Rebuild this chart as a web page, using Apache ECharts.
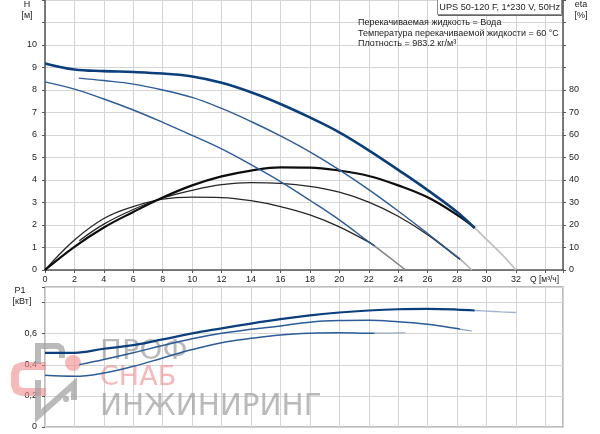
<!DOCTYPE html>
<html><head><meta charset="utf-8">
<script src="https://cdn.jsdelivr.net/npm/echarts@6/dist/echarts.min.js"></script>
<style>html,body{margin:0;padding:0;background:#fff}#c{width:600px;height:434px}</style>
</head><body><div id="c"></div>
<script>
// ---- data (Q in m3/h) ----
const qH3 = [0,2,4,6,8,10,12,14,16,18,20,22,24,26,28,29.2];
const h3  = [9.18,8.91,8.84,8.8,8.73,8.6,8.32,7.9,7.38,6.78,6.12,5.32,4.45,3.55,2.58,1.86];
const qH3g = [29.2,30,31,32];
const h3g  = [1.86,1.35,0.72,0];
const qH2 = [2.3,4,6,8,10,12,14,16,18,20,22,24,26,28,28.2];
const h2  = [8.53,8.42,8.26,8.0,7.67,7.18,6.6,5.96,5.25,4.45,3.57,2.62,1.62,0.6,0.5];
const qH2g = [28.2,28.6,29.0];
const h2g  = [0.5,0.26,0];
const qH1 = [0,2,4,6,8,10,12,14,16,18,20,22,22.4];
const h1  = [8.36,8.04,7.6,7.11,6.56,5.98,5.38,4.68,3.93,3.1,2.23,1.25,1.06];
const qH1g = [22.4,23,23.5,24,24.5];
const h1g  = [1.06,0.76,0.51,0.25,0];

const qE3 = [0,2,4,6,8,10,12,14,16,18,20,22,24,26,28,29.2];
const e3  = [0,10.3,18.9,25.8,32.2,37.6,41.6,44.2,45.6,45.5,44.2,41.8,37.6,32.3,24.5,18.8];
const qE3g = [29.2,30,31,32];
const e3g  = [18.8,13.8,7.4,0];
const qE2 = [2.33,4,6,8,10,12,14,16,18,20,22,24,26,28,28.2];
const e2  = [13,20.4,26.9,32,35.4,37.9,38.8,38.5,37.2,34.6,30.2,23.9,15.7,5.7,4.7];
const qE2g = [28.2,28.6,29.0];
const e2g  = [4.7,2.4,0];
const qE1 = [0,2,4,6,8,10,12,14,16,18,20,22,22.4];
const e1  = [0,13.3,22.9,28.2,31.5,32.4,32.2,30.8,28.2,24.5,19.2,12.4,10.8];
const qE1g = [22.4,23,23.5,24,24.5];
const e1g  = [10.8,7.7,5.2,2.6,0];

const qP3 = [0,2,4,6,8,10,12,14,16,18,20,22,24,26,28,29.2];
const p3  = [0.477,0.477,0.503,0.526,0.563,0.602,0.634,0.665,0.693,0.717,0.736,0.749,0.757,0.759,0.755,0.749];
const qP3g = [29.2,30,31,32];
const p3g  = [0.749,0.745,0.74,0.736];
const qP2 = [2.33,4,6,8,10,12,14,16,18,20,22,24,26,28,28.2];
const p2  = [0.401,0.434,0.477,0.524,0.567,0.602,0.628,0.65,0.674,0.684,0.686,0.676,0.66,0.633,0.629];
const qP2g = [28.2,28.6,29.0];
const p2g  = [0.629,0.623,0.617];
const qP1 = [0,2,4,6,8,10,12,14,16,18,20,22,22.4];
const p1  = [0.332,0.326,0.347,0.39,0.444,0.498,0.542,0.57,0.592,0.603,0.606,0.603,0.603];
const qP1g = [22.4,23,24,24.5];
const p1g  = [0.603,0.603,0.605,0.606];

const titleText = 'UPS 50-120 F, 1*230 V, 50Hz';
const infoLines = ['Перекачиваемая жидкость = Вода','Температура перекачиваемой жидкости = 60 °C','Плотность = 983.2 кг/м³'];

// ---- build ----
const FONT = 'Liberation Sans, Arial, sans-serif';
function zip(xs, ys){ return xs.map((x,i)=>[x, ys[i]]); }
function line(xs, ys, xi, yi, color, width, z){
  return {type:'line', xAxisIndex:xi, yAxisIndex:yi, data:zip(xs,ys), smooth:0.4,
    symbol:'none', silent:true, z:z||3, lineStyle:{color:color, width:width}};
}
const BLUE_D = '#0b3f7c', BLUE = '#2b5c98';
const series = [
  line(qH3g,h3g,0,0,'#b4b4b4',1.3,2), line(qE3g,e3g,0,1,'#c2c2c2',1.3,2),
  line(qH2g,h2g,0,0,'#a8a8a8',1.2,2), line(qE2g,e2g,0,1,'#b8b8b8',1.2,2),
  line(qH1g,h1g,0,0,'#7c7c7c',1.2,2), line(qE1g,e1g,0,1,'#8a8a8a',1.2,2),
  line(qE1,e1,0,1,'#262626',1.3), line(qE2,e2,0,1,'#262626',1.3), line(qE3,e3,0,1,'#0d0d0d',2.2),
  line(qH1,h1,0,0,BLUE,1.4), line(qH2,h2,0,0,BLUE,1.4), line(qH3,h3,0,0,BLUE_D,2.6),
  line(qP3g,p3g,1,2,'#9fb3cc',1.4,2), line(qP2g,p2g,1,2,'#8aa3c4',1.2,2), line(qP1g,p1g,1,2,'#9aaac0',1.2,2),
  line(qP1,p1,1,2,BLUE,1.5), line(qP2,p2,1,2,BLUE,1.5), line(qP3,p3,1,2,BLUE_D,2.2)
];

const gridLine = {show:true, lineStyle:{color:'#d5d5d5', width:1}};
const lab = {fontSize:9, color:'#222', fontFamily:FONT};
const wmGray = 'rgba(160,160,160,0.72)', wmPink = 'rgba(240,140,140,0.62)';

const option = {
  animation:false,
  backgroundColor:'#fff',
  grid:[
    {left:45, right:37, top:-1, height:271},
    {left:45, right:37, top:287, height:140, show:true, borderColor:'#a6a6a6', borderWidth:1.5}
  ],
  xAxis:[
    {gridIndex:0, type:'value', min:0, max:35.2, interval:2,
      axisLine:{show:true, onZero:false, lineStyle:{color:'#555', width:1.5}},
      axisTick:{show:true, length:3, lineStyle:{color:'#555'}},
      axisLabel:Object.assign({margin:5, formatter:v=> v>33 ? '' : String(v)}, lab),
      splitLine:gridLine},
    {gridIndex:1, type:'value', min:0, max:35.2, interval:2,
      axisLine:{show:false}, axisTick:{show:false}, axisLabel:{show:false}, splitLine:gridLine}
  ],
  yAxis:[
    {gridIndex:0, type:'value', min:0, max:12, interval:1,
      axisLine:{show:true, onZero:false, lineStyle:{color:'#555', width:1.5}},
      axisTick:{show:true, length:3, lineStyle:{color:'#555'}},
      axisLabel:Object.assign({margin:8, formatter:v=> v>10 ? '' : String(v)}, lab),
      splitLine:gridLine},
    {gridIndex:0, type:'value', position:'right', min:0, max:120, interval:10,
      axisLine:{show:true, onZero:false, lineStyle:{color:'#555', width:1.5}},
      axisTick:{show:true, length:3, lineStyle:{color:'#555'}},
      axisLabel:Object.assign({margin:6, formatter:v=> v>80 ? '' : String(v)}, lab),
      splitLine:{show:false}},
    {gridIndex:1, type:'value', min:0, max:0.9, interval:0.2,
      axisLine:{show:false}, axisTick:{show:true, length:3, lineStyle:{color:'#555'}},
      axisLabel:Object.assign({margin:8, formatter:v=> v>0.7 ? '' : String(+v.toFixed(1)).replace('.',',')}, lab),
      splitLine:gridLine}
  ],
  graphic:[
    // watermark
    {type:'polyline', z:1, silent:true, shape:{points:[[46,366],[22,366],[17,368],[15,373],[15,385],[17,390],[22,392],[46,392]]}, style:{fill:null, stroke:wmPink, lineWidth:8}},
    {type:'polyline', z:1, silent:true, shape:{points:[[38,364],[38,346],[58,346],[61,348],[62,351],[62,358]]}, style:{fill:null, stroke:wmGray, lineWidth:6}},
    {type:'circle', z:1, silent:true, shape:{cx:73, cy:363, r:8}, style:{fill:wmPink}},
    {type:'polyline', z:1, silent:true, shape:{points:[[38,380],[38,416],[74,384],[74,400]]}, style:{fill:null, stroke:wmGray, lineWidth:6}},
    {type:'circle', z:1, silent:true, shape:{cx:66, cy:399, r:3}, style:{fill:wmGray}},
    {type:'text', z:1, silent:true, x:100, y:352, scaleX:1.12, style:{text:'ПРОФ', fill:wmGray, font:'26px DejaVu Sans', verticalAlign:'middle', align:'left'}},
    {type:'text', z:1, silent:true, x:100, y:378, scaleX:1.0, style:{text:'СНАБ', fill:wmPink, font:'27px DejaVu Sans', verticalAlign:'middle', align:'left'}},
    {type:'text', z:1, silent:true, x:100, y:407, scaleX:0.98, style:{text:'ИНЖИНИРИНГ', fill:wmGray, font:'30px DejaVu Sans', verticalAlign:'middle', align:'left'}},
    // title box
    {type:'rect', z:10, shape:{x:437.5, y:-1.5, width:124, height:16}, style:{fill:'#fff', stroke:'#8c8c8c', lineWidth:1}},
    {type:'polyline', z:10, shape:{points:[[438,15.5],[562.5,15.5],[562.5,-1]]}, style:{fill:null, stroke:'#666', lineWidth:1}},
    {type:'text', z:11, x:560, y:7, style:{text:titleText, fill:'#222', font:'9.2px '+FONT, align:'right', verticalAlign:'middle'}},
    // info
    {type:'text', z:11, x:358, y:23, style:{text:infoLines[0], fill:'#222', font:'9px '+FONT, verticalAlign:'middle'}},
    {type:'text', z:11, x:358, y:33.5, style:{text:infoLines[1], fill:'#222', font:'9px '+FONT, verticalAlign:'middle'}},
    {type:'text', z:11, x:358, y:44, style:{text:infoLines[2], fill:'#222', font:'9px '+FONT, verticalAlign:'middle'}},
    // axis names
    {type:'text', z:11, x:27, y:5, style:{text:'H', fill:'#222', font:'9px '+FONT, align:'center', verticalAlign:'middle'}},
    {type:'text', z:11, x:27, y:16, style:{text:'[м]', fill:'#222', font:'9px '+FONT, align:'center', verticalAlign:'middle'}},
    {type:'text', z:11, x:581, y:5, style:{text:'eta', fill:'#222', font:'9px '+FONT, align:'center', verticalAlign:'middle'}},
    {type:'text', z:11, x:581, y:16, style:{text:'[%]', fill:'#222', font:'9px '+FONT, align:'center', verticalAlign:'middle'}},
    {type:'text', z:11, x:530, y:280, style:{text:'Q [м³/ч]', fill:'#222', font:'8.5px '+FONT, align:'left', verticalAlign:'middle'}},
    {type:'text', z:11, x:20, y:291, style:{text:'P1', fill:'#222', font:'9px '+FONT, align:'center', verticalAlign:'middle'}},
    {type:'text', z:11, x:22, y:302, style:{text:'[кВт]', fill:'#222', font:'9px '+FONT, align:'center', verticalAlign:'middle'}}
  ],
  series:series
};
const chart = echarts.init(document.getElementById('c'), null, {renderer:'canvas'});
chart.setOption(option);
</script></body></html>
